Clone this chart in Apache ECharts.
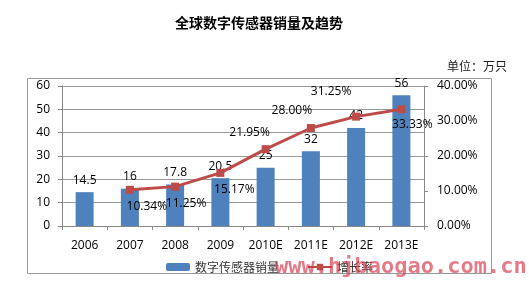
<!DOCTYPE html>
<html><head><meta charset="utf-8">
<script src="https://cdn.jsdelivr.net/npm/echarts@6/dist/echarts.min.js"></script>
<style>html,body{margin:0;padding:0;background:#fff}#c{width:529px;height:297px}</style>
</head><body><div id="c"></div>
<script>
const categories = ['2006','2007','2008','2009','2010E','2011E','2012E','2013E'];
const sales = [14.5, 16, 17.8, 20.5, 25, 32, 42, 56];
const growth = [null, 10.34, 11.25, 15.17, 21.95, 28.00, 31.25, 33.33];
const leftTicks = [0, 10, 20, 30, 40, 50, 60];
const rightTicks = [0, 10, 20, 30, 40];

const labelOffsets = [null,[17,0],[11,0],[14,0],[-16,0],[-19,0],[-25,-8],[11,-2]];
const labelPos = [null,'bottom','bottom','bottom','top','top','top','bottom'];

const font = '"Open Sans", "Noto Sans CJK SC", sans-serif';
const chart = echarts.init(document.getElementById('c'));
chart.setOption({
  animation: false,
  textStyle: {fontFamily: font},
  graphic: [
    {type:'rect', shape:{x:27.5,y:78.5,width:464,height:195}, style:{fill:'none',stroke:'#999',lineWidth:1}, z:-1},
    {type:'text', x:259, y:16, style:{text:'全球数字传感器销量及趋势', font:'bold 14px "Noto Sans CJK SC"', fill:'#000', textAlign:'center'}},
    {type:'text', x:447, y:60, style:{text:'单位：万只', font:'12px "Noto Sans CJK SC"', fill:'#222'}},
    {type:'text', x:275, y:256, z:100, style:{text:'www.hjbaogao.com.cn', font:'bold 22px "DejaVu Sans Mono"', fill:'rgba(215,50,70,0.65)'}}
  ],
  grid: {left:62, right:105, top:86, bottom:71},
  legend: {
    left: 161, top: 256, itemGap: 28, itemWidth: 24, itemHeight: 8,
    textStyle: {fontSize: 12, color: '#333', fontFamily: '"Noto Sans CJK SC"'},
    data: ['数字传感器销量', '增长率']
  },
  xAxis: {
    type:'category', data: categories,
    axisLine:{lineStyle:{color:'#888'}},
    axisTick:{show:true, lineStyle:{color:'#888'}, length:4},
    axisLabel:{color:'#000', fontSize:12, margin:14}
  },
  yAxis: [
    {type:'value', min:0, max:60, interval:10,
     axisLine:{show:true, lineStyle:{color:'#888'}},
     axisTick:{show:true, lineStyle:{color:'#888'}, length:4},
     axisLabel:{color:'#000', fontSize:12, margin:12, formatter: v => leftTicks.includes(v) ? String(v) : ''},
     splitLine:{lineStyle:{color:'#999'}}},
    {type:'value', min:0, max:40, interval:10,
     axisLine:{show:true, lineStyle:{color:'#888'}},
     axisTick:{show:true, lineStyle:{color:'#888'}, length:4},
     axisLabel:{color:'#000', fontSize:12, margin:13, formatter: v => rightTicks.includes(v) ? v.toFixed(2) + '%' : ''},
     splitLine:{show:false}}
  ],
  series: [
    {name:'数字传感器销量', type:'bar', data: sales, barWidth:18,
     itemStyle:{color:'#4F81BD'},
     label:{show:true, position:'top', distance:6, color:'#000', fontSize:12}},
    {name:'增长率', type:'line', yAxisIndex:1,
     data: growth.map((v,i) => v == null ? null : {value:v,
       label:{position: labelPos[i], offset: labelOffsets[i]}}),
     symbol:'rect', symbolSize:8, lineStyle:{color:'#BE4B48', width:3},
     itemStyle:{color:'#BE4B48'},
     label:{show:true, color:'#000', fontSize:12, distance:7, formatter: p => p.value.toFixed(2) + '%'}}
  ]
});
</script></body></html>
